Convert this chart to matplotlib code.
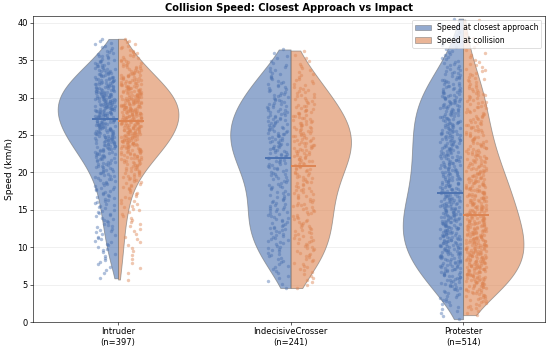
import numpy as np
import matplotlib
matplotlib.use("Agg")
import matplotlib.pyplot as plt
from matplotlib.patches import Patch

# ---------------- data ----------------
categories = ["Intruder", "IndecisiveCrosser", "Protester"]
counts = [397, 241, 514]

# density profiles (relative violin half-widths) at speed grid points
intruder_closest_speed = [5.2, 7.5, 10, 12.5, 15, 17.5, 20, 22.5, 25, 28, 30, 32.5, 35, 38]
intruder_closest_width = [1, 7, 11, 14, 16, 19, 25, 38, 51, 61, 60, 46, 23, 7]
intruder_collision_speed = [5.2, 7.5, 10, 12.5, 15, 17.5, 20, 22.5, 25, 28, 30, 32.5, 35, 36, 38]
intruder_collision_width = [2, 3, 5, 6, 9, 12, 22, 37, 52, 59, 54, 37, 19, 13, 7]

indecisive_closest_speed = [4.3, 5, 7.5, 10, 12.5, 15, 17.5, 20, 22.5, 25, 27.5, 30, 32.5, 35, 36.7]
indecisive_closest_width = [10, 11, 22, 35, 42, 40, 38, 45, 57, 61, 57, 47, 32, 17, 9]
indecisive_collision_speed = [4.3, 5, 7.5, 10, 12.5, 15, 17.5, 20, 22.5, 23.5, 25, 27.5, 30, 32.5, 35, 36.7]
indecisive_collision_width = [10, 13, 25, 35, 38, 38, 40, 47, 57, 60, 58, 52, 38, 25, 13, 5]

protester_closest_speed = [0, 2.5, 5, 7.5, 10, 12.5, 15, 17.5, 20, 22.5, 25, 27.5, 30, 32.5, 35, 37.5, 41]
protester_closest_width = [3, 16, 33, 48, 58, 60, 57, 51, 48, 48, 48, 47, 43, 31, 18, 9, 3]
protester_collision_speed = [0.7, 1, 2.5, 5, 7.5, 10, 12.5, 15, 17.5, 20, 22.5, 25, 27.5, 30, 32.5, 35, 37.5, 41]
protester_collision_width = [5, 7, 21, 44, 59, 61, 57, 51, 46, 39, 32, 27, 24, 21, 16, 9, 4, 2]

median_closest = [27.2, 21.9, 17.2]
median_collision = [26.8, 20.9, 14.3]

closest_profiles = [(intruder_closest_speed, intruder_closest_width),
                    (indecisive_closest_speed, indecisive_closest_width),
                    (protester_closest_speed, protester_closest_width)]
collision_profiles = [(intruder_collision_speed, intruder_collision_width),
                      (indecisive_collision_speed, indecisive_collision_width),
                      (protester_collision_speed, protester_collision_width)]


def samples_from_profile(speed, width, n):
    xs = np.linspace(min(speed), max(speed), 3000)
    dens = np.interp(xs, speed, width)
    cdf = np.concatenate([[0], np.cumsum((dens[1:] + dens[:-1]) / 2 * np.diff(xs))])
    cdf /= cdf[-1]
    q = (np.arange(n) + 0.5) / n
    return np.interp(q, cdf, xs)


def jitter_positions(n, seed):
    # deterministic hash-based spread of x positions (layout only)
    k = np.arange(n) + seed
    return (np.sin(k * 12.9898 + seed * 78.233) * 43758.5453) % 1.0


BLUE = "#4c72b0"
ORANGE = "#dd8452"
EDGE = "#6e6e6e"

fig = plt.figure(figsize=(10, 348 / 55), dpi=55)
ax = fig.add_axes([0.06, 0.0747, 0.931, 0.8793])

for i, cat in enumerate(categories):
    n = counts[i]
    for side, prof, color, med in ((-1, closest_profiles[i], BLUE, median_closest[i]),
                                   (1, collision_profiles[i], ORANGE, median_collision[i])):
        data = samples_from_profile(prof[0], prof[1], n)
        parts = ax.violinplot([data], positions=[i], widths=0.7,
                              showextrema=False, showmeans=False, showmedians=False)
        for body in parts["bodies"]:
            verts = body.get_paths()[0].vertices
            if side < 0:
                verts[:, 0] = np.minimum(verts[:, 0], i)
            else:
                verts[:, 0] = np.maximum(verts[:, 0], i)
            body.set_facecolor(color)
            body.set_edgecolor(EDGE)
            body.set_linewidth(1.1)
            body.set_alpha(0.6)
            body.set_zorder(1)
        frac = jitter_positions(n, 3 * i + (1 if side < 0 else 2))
        xoff = side * (0.015 + 0.12 * frac)
        ax.scatter(i + xoff, data, s=20, color=color, alpha=0.45,
                   linewidths=0, zorder=2)
        ax.plot([i, i + side * 0.15], [med, med], color=color, lw=2.5,
                solid_capstyle="butt", zorder=3)

ax.set_xticks(range(len(categories)))
ax.set_xticklabels([f"{c}\n(n={n})" for c, n in zip(categories, counts)], fontsize=11)
ax.set_xlim(-0.493, 2.475)
ax.set_ylim(0, 40.9)
ax.set_yticks(range(0, 41, 5))
ax.tick_params(axis="y", labelsize=11)
ax.set_ylabel("Speed (km/h)", fontsize=12)
ax.set_title("Collision Speed: Closest Approach vs Impact", fontsize=13,
             fontweight="bold")
ax.grid(axis="y", alpha=0.3)
ax.set_axisbelow(True)

handles = [Patch(facecolor=BLUE, alpha=0.6, edgecolor=EDGE, label="Speed at closest approach"),
           Patch(facecolor=ORANGE, alpha=0.6, edgecolor=EDGE, label="Speed at collision")]
ax.legend(handles=handles, loc="upper right", fontsize=10)

fig.savefig("out.png", dpi=55)
